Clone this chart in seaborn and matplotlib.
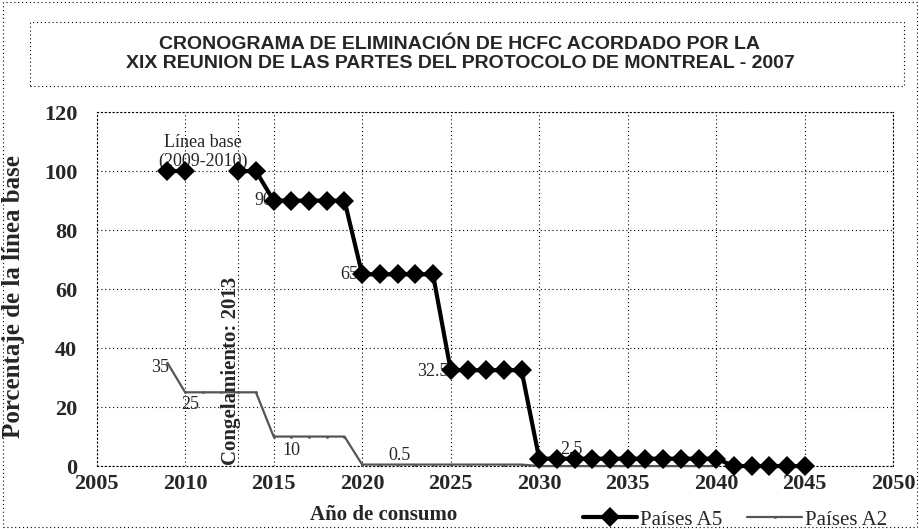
import numpy as np
import pandas as pd
import seaborn as sns
import matplotlib.pyplot as plt
from matplotlib.patches import Rectangle
from matplotlib.lines import Line2D

# Paises A5 (gaps in 2011-2012 are empty cells)
years_a5 = [2009, 2010, 2011, 2012, 2013, 2014,
            2015, 2016, 2017, 2018, 2019,
            2020, 2021, 2022, 2023, 2024,
            2025, 2026, 2027, 2028, 2029,
            2030, 2031, 2032, 2033, 2034, 2035, 2036, 2037, 2038, 2039, 2040,
            2041, 2042, 2043, 2044, 2045]
values_a5 = [100, 100, np.nan, np.nan, 100, 100,
             90, 90, 90, 90, 90,
             65, 65, 65, 65, 65,
             32.5, 32.5, 32.5, 32.5, 32.5,
             2.5, 2.5, 2.5, 2.5, 2.5, 2.5, 2.5, 2.5, 2.5, 2.5, 2.5,
             0, 0, 0, 0, 0]

# Paises A2
years_a2 = list(range(2009, 2041))
values_a2 = ([35] + [25] * 5 + [10] * 5 + [0.5] * 10 + [0] * 11)

x_ticks = list(range(2005, 2051, 5))
y_ticks = list(range(0, 121, 20))

df_a5 = pd.DataFrame({'anio': years_a5, 'valor': values_a5})
df_a5['tramo'] = df_a5['valor'].isna().cumsum()
df_a5 = df_a5.dropna()
df_a2 = pd.DataFrame({'anio': years_a2, 'valor': values_a2})

sns.set_style('white')
plt.rcParams['font.family'] = ['Liberation Serif', 'DejaVu Serif']

fig = plt.figure(figsize=(9.2, 5.29), dpi=100)
ax = fig.add_axes([0.105, 0.119, 0.866, 0.669])

dots = (0, (1, 2.5))
a2_color = '#555555'

sns.lineplot(data=df_a2, x='anio', y='valor', ax=ax, color=a2_color,
             linewidth=1.6, marker='.', markersize=4, markeredgewidth=0,
             legend=False, clip_on=False, zorder=3)
sns.lineplot(data=df_a5, x='anio', y='valor', units='tramo', estimator=None,
             ax=ax, color='black', linewidth=3, marker='D', markersize=10,
             markeredgewidth=0, legend=False, clip_on=False, zorder=4)

ax.axvline(2013, color='black', linestyle=dots, linewidth=0.8, zorder=1)

ax.set_xlim(2005, 2050)
ax.set_ylim(0, 120)
ax.set_xticks(x_ticks)
ax.set_yticks(y_ticks)
ax.grid(True, color='black', linestyle=dots, linewidth=0.8)
for s in ax.spines.values():
    s.set_linestyle(dots)
    s.set_linewidth(0.8)
    s.set_color('black')
ax.tick_params(axis='both', length=0, labelsize=16)
ax.tick_params(axis='x', pad=6)
ax.tick_params(axis='y', pad=14)
for lab in ax.get_xticklabels() + ax.get_yticklabels():
    lab.set_fontweight('bold')

ax.set_xlabel('Año de consumo', fontsize=15, fontweight='bold', va='center')
ax.xaxis.set_label_coords(0.36, -0.137)
ax.set_ylabel('Porcentaje de la línea base', fontsize=18, fontweight='bold')
ax.yaxis.set_label_coords(-0.09, 0.478)

# annotations
fs = 13
ax.text(2011.0, 106.5, 'Línea base\n(2009-2010)', fontsize=fs, ha='center',
        va='center', linespacing=1.1)
ax.text(2014.9, 90, '90', fontsize=fs, ha='right', va='center')
ax.text(2019.8, 65, '65', fontsize=fs, ha='right', va='center')
ax.text(2024.9, 32, '32.5', fontsize=fs, ha='right', va='center')
ax.text(2031.2, 5.5, '2.5', fontsize=fs, ha='left', va='center')
ax.text(2009.1, 33.5, '35', fontsize=fs, ha='right', va='center')
ax.text(2010.3, 21, '25', fontsize=fs, ha='center', va='center')
ax.text(2016.0, 5.2, '10', fontsize=fs, ha='center', va='center')
ax.text(2022.1, 3.5, '0.5', fontsize=fs, ha='center', va='center')
ax.text(2012.6, 0.5, 'Congelamiento: 2013', fontsize=15, fontweight='bold',
        rotation=90, ha='center', va='bottom')

handles = [Line2D([], [], color='black', linewidth=3, marker='D',
                  markersize=10, markeredgewidth=0),
           Line2D([], [], color=a2_color, linewidth=1.6, marker='.',
                  markersize=4, markeredgewidth=0)]
ax.legend(handles=handles, labels=['Países A5', 'Países A2'],
          loc='center right', bbox_to_anchor=(1.005, -0.152), ncol=2,
          frameon=False, fontsize=15, handlelength=2.6, columnspacing=1.2,
          handletextpad=0.15, borderpad=0)

# title box and outer frame
fig.patches.append(Rectangle((0.033, 0.838), 0.95, 0.12, transform=fig.transFigure,
                             fill=False, linestyle=dots, linewidth=0.8,
                             edgecolor='black'))
fig.patches.append(Rectangle((0.003, 0.003), 0.994, 0.994, transform=fig.transFigure,
                             fill=False, linestyle=dots, linewidth=0.8,
                             edgecolor='black'))
fig.text(0.5, 0.898, 'CRONOGRAMA DE ELIMINACIÓN DE HCFC ACORDADO POR LA\n'
         'XIX REUNION DE LAS PARTES DEL PROTOCOLO DE MONTREAL - 2007',
         ha='center', va='center', fontsize=14, fontweight='bold',
         family=['Liberation Sans Narrow', 'Liberation Sans', 'DejaVu Sans'],
         linespacing=1.15)

fig.savefig('out.png', dpi=100)
